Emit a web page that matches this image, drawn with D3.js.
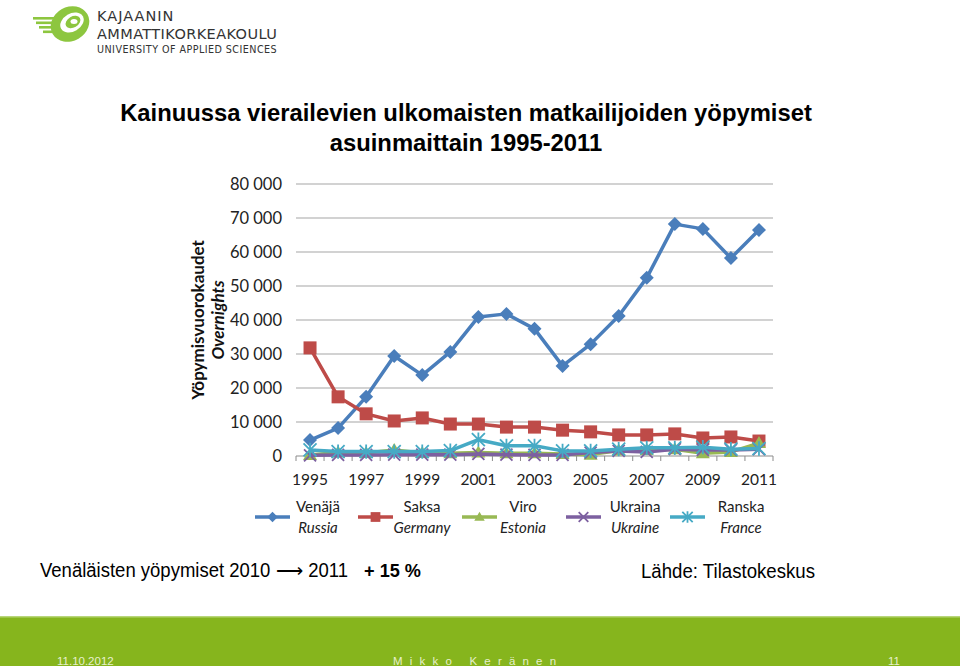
<!DOCTYPE html>
<html><head><meta charset="utf-8">
<script src="https://cdn.jsdelivr.net/npm/d3@7/dist/d3.min.js"></script>
<style>body{margin:0;background:#fff}svg{display:block}</style>
</head><body>
<svg id="c" width="960" height="666"></svg>
<script>
const years = ["1995","1996","1997","1998","1999","2000","2001","2002","2003","2004","2005","2006","2007","2008","2009","2010","2011"];
const tickYears = ["1995","1997","1999","2001","2003","2005","2007","2009","2011"];
const russia  = [4700,8200,17400,29400,23800,30600,40900,41800,37400,26500,32900,41200,52400,68200,66800,58200,66500];
const germany = [31800,17400,12400,10300,11200,9400,9400,8500,8500,7600,7100,6200,6200,6500,5300,5600,4400];
const estonia = [300,1000,900,1800,900,800,1000,800,800,600,400,1600,1800,2000,800,1200,3800];
const ukraine = [200,300,300,400,400,400,600,400,300,300,1000,1500,1200,2000,1800,1800,2000];
const france  = [1800,1300,1300,1300,1300,1600,4800,3000,3000,1500,1500,2000,2400,2400,2600,2000,2200];
const yTicks = [0,10000,20000,30000,40000,50000,60000,70000,80000];
const seriesNames = [["Venäjä","Russia"],["Saksa","Germany"],["Viro","Estonia"],["Ukraina","Ukraine"],["Ranska","France"]];

const series = [
  {name:seriesNames[0], values:russia,  color:"#4A7EBB", marker:"diamond"},
  {name:seriesNames[1], values:germany, color:"#BE4B48", marker:"square"},
  {name:seriesNames[2], values:estonia, color:"#98B954", marker:"triangle"},
  {name:seriesNames[3], values:ukraine, color:"#7D60A0", marker:"x"},
  {name:seriesNames[4], values:france,  color:"#46AAC5", marker:"star"}
];

const svg = d3.select("#c");
const x = d3.scaleBand().domain(years).range([296,773]).padding(0);
const cx = d => x(d) + x.bandwidth()/2;
const y = d3.scaleLinear().domain([0,80000]).range([456,184]);
const loc = d3.formatLocale({decimal:",", thousands:" ", grouping:[3], currency:["",""]});
const fmt = loc.format(",");

// Logo
const logo = svg.append("g");
const g1 = "#8DC63F";
[[33,17,34],[36,21.5,30],[39,26,27],[43,30.5,22]].forEach(([x0,yy,w])=>{
  logo.append("rect").attr("x",x0).attr("y",yy).attr("width",w).attr("height",2.6).attr("fill",g1);
});
logo.append("ellipse").attr("cx",70).attr("cy",24).attr("rx",20).attr("ry",17).attr("transform","rotate(-30 70 24)").attr("fill",g1);
logo.append("ellipse").attr("cx",72).attr("cy",22.5).attr("rx",12.5).attr("ry",9).attr("transform","rotate(-30 72 22.5)").attr("fill","#fff");
logo.append("ellipse").attr("cx",73).attr("cy",22).attr("rx",8).attr("ry",5.5).attr("transform","rotate(-30 73 22)").attr("fill",g1);
logo.append("ellipse").attr("cx",74).attr("cy",21.5).attr("rx",3.5).attr("ry",2.5).attr("fill","#fff");
logo.append("text").attr("x",97).attr("y",21).attr("font-family","DejaVu Sans, sans-serif").attr("font-size",14.5).attr("fill","#333").attr("letter-spacing",1).text("KAJAANIN");
logo.append("text").attr("x",97).attr("y",39).attr("font-family","DejaVu Sans, sans-serif").attr("font-size",14.5).attr("fill","#333").attr("letter-spacing",0.4).text("AMMATTIKORKEAKOULU");
logo.append("text").attr("x",97).attr("y",53).attr("font-family","DejaVu Sans, sans-serif").attr("font-size",9.6).attr("fill","#333").attr("letter-spacing",0.45).text("UNIVERSITY OF APPLIED SCIENCES");

// Title
const tf = "Liberation Sans, Arial, sans-serif";
svg.append("text").attr("x",466).attr("y",121).attr("text-anchor","middle").attr("font-family",tf).attr("font-weight","bold").attr("font-size",23.8).attr("fill","#000").text("Kainuussa vierailevien ulkomaisten matkailijoiden yöpymiset");
svg.append("text").attr("x",466).attr("y",151).attr("text-anchor","middle").attr("font-family",tf).attr("font-weight","bold").attr("font-size",23.8).attr("fill","#000").text("asuinmaittain 1995-2011");

// Gridlines
const chart = svg.append("g");
chart.selectAll("line.grid").data(yTicks.filter(d=>d>0)).join("line")
  .attr("x1",296).attr("x2",773).attr("y1",d=>y(d)).attr("y2",d=>y(d))
  .attr("stroke","#A6A6A6").attr("stroke-width",1.2);

// Y axis labels
const yAxis = d3.axisLeft(y).tickValues(yTicks).tickFormat(fmt).tickSize(0).tickPadding(0);
const ya = chart.append("g").attr("transform","translate(282,0)").call(yAxis);
ya.select(".domain").remove();
ya.selectAll("text").attr("font-family","Lato, 'Open Sans', sans-serif").attr("font-size",16.5).attr("fill","#222").attr("dy","0.35em");

// X axis
const xAxis = d3.axisBottom(x).tickValues(years).tickSize(5).tickFormat("");
const xa = chart.append("g").attr("transform","translate(0,456)").call(xAxis);
xa.select(".domain").attr("stroke","#8C8C8C").attr("stroke-width",1.2).attr("d","M296,0H773");
xa.selectAll(".tick line").attr("stroke","#8C8C8C").attr("transform",`translate(${-x.bandwidth()/2},0)`);
chart.append("line").attr("x1",773).attr("x2",773).attr("y1",456).attr("y2",461).attr("stroke","#8C8C8C");
chart.selectAll("text.xl").data(tickYears).join("text")
  .attr("x",d=>cx(d)).attr("y",485).attr("text-anchor","middle")
  .attr("font-family","Lato, 'Open Sans', sans-serif").attr("font-size",15.5).attr("fill","#222").text(d=>d);

// Y title
const yt = svg.append("g").attr("transform","translate(0,320) rotate(-90)");
yt.append("text").attr("x",0).attr("y",204).attr("text-anchor","middle").attr("font-family","Lato, 'Open Sans', sans-serif").attr("font-weight","bold").attr("font-size",17).attr("fill","#111").text("Yöpymisvuorokaudet");
yt.append("text").attr("x",0).attr("y",224).attr("text-anchor","middle").attr("font-family","Lato, 'Open Sans', sans-serif").attr("font-weight","bold").attr("font-style","italic").attr("font-size",17).attr("fill","#111").text("Overnights");

// Markers
function drawMarker(g, type, px, py, color, scale){
  const s = scale||1;
  if(type==="diamond"){
    g.append("path").attr("d",`M${px},${py-7*s}L${px+7*s},${py}L${px},${py+7*s}L${px-7*s},${py}Z`).attr("fill",color);
  } else if(type==="square"){
    g.append("rect").attr("x",px-6.5*s).attr("y",py-6.5*s).attr("width",13*s).attr("height",13*s).attr("fill",color);
  } else if(type==="triangle"){
    g.append("path").attr("d",`M${px},${py-7*s}L${px+7*s},${py+5*s}L${px-7*s},${py+5*s}Z`).attr("fill",color);
  } else if(type==="x"){
    const r=6*s;
    g.append("path").attr("d",`M${px-r},${py-r}L${px+r},${py+r}M${px-r},${py+r}L${px+r},${py-r}`).attr("stroke",color).attr("stroke-width",1.8);
  } else if(type==="star"){
    const r=6.5*s;
    g.append("path").attr("d",`M${px-r},${py-r}L${px+r},${py+r}M${px-r},${py+r}L${px+r},${py-r}M${px},${py-r*1.1}L${px},${py+r*1.1}`).attr("stroke",color).attr("stroke-width",1.8);
  }
}

const line = d3.line().x((d,i)=>cx(years[i])).y(d=>y(d));
series.forEach(s=>{
  const g = chart.append("g");
  g.append("path").datum(s.values).attr("d",line).attr("fill","none").attr("stroke",s.color).attr("stroke-width",3.5).attr("stroke-linejoin","round");
  s.values.forEach((v,i)=>drawMarker(g,s.marker,cx(years[i]),y(v),s.color,1));
});

// Legend
const legX = [255,358,462,566,670];
const legText = [318,422,523,635,741];
series.forEach((s,i)=>{
  const g = svg.append("g");
  g.append("line").attr("x1",legX[i]).attr("x2",legX[i]+35).attr("y1",517).attr("y2",517).attr("stroke",s.color).attr("stroke-width",3.5);
  drawMarker(g,s.marker,legX[i]+17.5,517,s.color,s.marker==="x"||s.marker==="star"?0.8:0.75);
  g.append("text").attr("x",legText[i]).attr("y",512).attr("text-anchor","middle").attr("font-family","Lato, 'Open Sans', sans-serif").attr("font-size",15).attr("fill","#222").text(s.name[0]);
  g.append("text").attr("x",legText[i]).attr("y",533).attr("text-anchor","middle").attr("font-family","Lato, 'Open Sans', sans-serif").attr("font-style","italic").attr("font-size",15).attr("fill","#222").text(s.name[1]);
});

// Bottom notes
svg.append("text").attr("x",40).attr("y",577).attr("font-family",tf).attr("font-size",19.5).attr("fill","#000")
  .attr("textLength",308).attr("lengthAdjust","spacingAndGlyphs").text("Venäläisten yöpymiset 2010 ⟶ 2011");
svg.append("text").attr("x",364).attr("y",577).attr("font-family",tf).attr("font-weight","bold").attr("font-size",19).attr("fill","#000")
  .attr("textLength",57).attr("lengthAdjust","spacingAndGlyphs").text("+ 15 %");
svg.append("text").attr("x",641).attr("y",578).attr("font-family",tf).attr("font-size",19.5).attr("fill","#000")
  .attr("textLength",174).attr("lengthAdjust","spacingAndGlyphs").text("Lähde: Tilastokeskus");

// Footer
svg.append("rect").attr("x",0).attr("y",617).attr("width",960).attr("height",49).attr("fill","#86B51D");
svg.append("rect").attr("x",0).attr("y",616).attr("width",960).attr("height",1.5).attr("fill","#B8D67A");
const ft = {"font-family":tf,"font-size":11.5,"fill":"#E6F0CC"};
function ftext(xx,t,ls){const e=svg.append("text").attr("x",xx).attr("y",665).text(t);Object.entries(ft).forEach(([k,v])=>e.attr(k,v));if(ls)e.attr("letter-spacing",ls);return e;}
ftext(57,"11.10.2012");
ftext(393,"Mikko Keränen",7.2);
ftext(888,"11");
</script>
</body></html>
